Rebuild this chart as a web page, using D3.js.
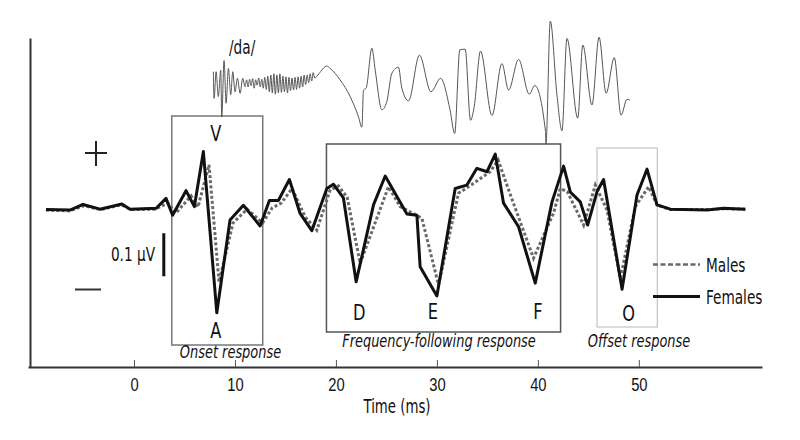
<!DOCTYPE html>
<html>
<head>
<meta charset="utf-8">
<script src="https://cdn.jsdelivr.net/npm/d3@7/dist/d3.min.js"></script>
<style>
  body { margin: 0; background: #fff; }
  svg { display: block; font-family: "Liberation Sans Narrow", "DejaVu Sans Condensed", "Arial Narrow", sans-serif; }
</style>
</head>
<body>
<div id="chart"></div>
<script>
// grand average responses to /da/, [time (ms), amplitude (µV)]
var females = [
  [-8.72, 0.001], [-6.34, 0], [-5.05, 0.013], [-3.37, 0.002], [-1.2, 0.014], [-0.4, 0.002],
  [2.2, 0.004], [3.17, 0.027], [3.82, -0.012], [5.15, 0.045], [5.98, 0.008], [6.87, 0.136],
  [8.2, -0.239], [9.51, -0.023], [10.83, 0.011], [12.49, -0.037], [13.41, 0.022], [14.3, 0.022],
  [15.39, 0.071], [16.45, -0.008], [17.61, -0.048], [19.1, 0.05], [19.75, 0.06], [20.74, 0.028],
  [22.0, -0.167], [23.72, 0.012], [24.88, 0.079], [27.03, -0.009], [28.02, -0.012], [28.34, -0.132],
  [30.0, -0.2], [31.81, 0.05], [32.97, 0.058], [33.96, 0.097], [34.96, 0.089], [35.78, 0.13],
  [36.6, 0.016], [38.09, -0.039], [39.74, -0.17], [41.4, 0.019], [42.55, 0.102], [43.21, 0.042],
  [44.2, 0.019], [44.93, -0.035], [45.86, 0.043], [46.51, 0.071], [48.34, -0.184], [49.82, 0.035],
  [50.81, 0.095], [51.8, 0.012], [53.12, 0.002], [56.76, 0], [58.4, 0.004], [60.56, 0.002]
];

var males = [
  [-8.72, 0], [-6.34, -0.002], [-5.0, 0.01], [-3.3, 0.001], [-1.3, 0.012], [-0.2, 0.001],
  [2.08, 0.002], [3.37, 0.016], [4.16, -0.007], [5.65, 0.033], [6.34, 0.007], [7.43, 0.105],
  [8.42, -0.167], [9.81, -0.03], [11.2, 0.002], [12.74, -0.03], [13.68, 0.005], [14.57, 0.016],
  [15.66, 0.05], [16.95, -0.016], [18.11, -0.047], [19.43, 0.047], [20.25, 0.056], [21.11, 0.03],
  [22.4, -0.124], [25.2, 0.054], [26.36, 0.008], [28.51, -0.019], [30.16, -0.174], [32.14, 0.039],
  [33.63, 0.062], [35.28, 0.089], [36.07, 0.116], [37.1, 0.047], [39.57, -0.112], [41.56, -0.007],
  [42.22, 0.05], [42.91, 0.043], [44.53, -0.035], [45.69, 0.058], [46.85, 0], [48.17, -0.159],
  [49.65, 0.008], [50.97, 0.054], [51.8, 0.012], [53.12, 0.001], [56.76, 0.001], [58.4, 0.003],
  [60.56, 0.002]
];

// /da/ stimulus waveform, [time (ms), relative amplitude]
var stimulus = [
  [7.86, 0.155], [7.93, -0.29], [8.13, 0.155], [8.35, -0.26], [8.59, 0.18], [8.69, -0.6],
  [8.92, 0.34], [9.12, -0.37], [9.35, 0.21], [9.58, -0.23], [9.78, 0.155], [10.01, -0.18],
  [10.24, 0.045], [10.51, -0.205], [10.77, 0.045], [11.0, -0.095],
  [11.15, 0.02], [11.3, -0.1], [11.45, 0.03], [11.6, -0.08], [11.75, 0.04], [11.9, -0.12],
  [12.05, 0.02], [12.2, -0.07], [12.35, 0.05], [12.5, -0.1], [12.65, 0.03], [12.8, -0.12],
  [12.95, 0.06], [13.1, -0.14], [13.25, 0.08], [13.4, -0.18], [13.55, 0.1], [13.7, -0.2],
  [13.85, 0.12], [14.0, -0.22], [14.15, 0.1], [14.3, -0.2], [14.45, 0.12], [14.6, -0.19],
  [14.75, 0.08], [14.9, -0.18], [15.05, 0.07], [15.2, -0.2], [15.35, 0.06], [15.5, -0.16],
  [15.65, 0.05], [15.8, -0.15], [15.95, 0.06], [16.1, -0.14], [16.25, 0.07], [16.4, -0.12],
  [16.55, 0.08], [16.7, -0.1], [16.85, 0.1], [17.0, -0.06], [17.15, 0.1], [17.3, -0.03],
  [17.45, 0.12], [17.6, 0.0], [17.75, 0.14], [17.9, 0.05],
  [18.3, 0.12], [19.1, 0.25], [19.43, 0.21], [20.42, 0.017], [21.41, -0.26], [22.23, -0.595],
  [22.57, -0.77], [22.73, -0.15], [22.99, -0.12], [23.56, 0.545], [23.89, 0.18], [24.55, -0.48],
  [25.04, -0.345], [25.54, 0.13], [26.19, 0.23], [26.53, -0.12], [27.19, -0.33], [28.27, 0.43],
  [29.41, -0.18], [30.37, 0.045], [31.3, -0.48], [31.76, -0.875], [32.27, 0.52], [32.8, 0.53],
  [33.33, -0.655], [33.7, -0.42], [34.32, 0.5], [35.45, -0.575], [36.44, 0.29], [37.1, -0.15],
  [38.09, 0.36], [39.15, -0.22], [39.69, -0.075], [40.76, -0.845], [40.8, -1.05], [41.23, 1.0],
  [41.89, -0.23], [42.39, -0.83], [42.88, 0.71], [43.95, -0.62], [44.45, 0.6], [45.36, -0.4],
  [46.06, 0.73], [46.76, -0.205], [47.57, 0.39], [48.24, -0.57], [48.83, -0.305], [49.1, -0.32]
];

var xTicks = [0, 10, 20, 30, 40, 50];

var peakNames = ["V", "A", "D", "E", "F", "O"];
var peakTimes = [8.1, 8.1, 22.3, 29.6, 40.0, 49.0];

var regionNames = ["Onset response", "Frequency-following response", "Offset response"];
var regionStart = [3.74, 19.06, 45.86];
var regionEnd = [12.75, 42.25, 51.83];

var seriesNames = ["Males", "Females"];

var width = 800, height = 440;

var x = d3.scaleLinear().domain([-10.5, 62.2]).range([28, 762]);
var y = d3.scaleLinear().domain([-0.365, 0.4]).range([367, 38]);
var ys = d3.scaleLinear().domain([-1, 1]).range([141, 21]);

var svg = d3.select("#chart").append("svg")
    .attr("width", width)
    .attr("height", height);

// the original type is a condensed face, so squeeze text horizontally
function squeeze(sel, k) {
    sel.each(function() {
        var t = d3.select(this),
            tx = +t.attr("x") || 0,
            ty = +t.attr("y") || 0;
        t.attr("x", null).attr("y", null)
            .attr("transform", "translate(" + tx + "," + ty + ") scale(" + k + ",1)");
    });
}

// response windows
var boxTop = [116, 144, 148],
    boxBottom = [345, 332, 327],
    boxColor = ["#777", "#555", "#c4c4c4"],
    boxWidth = [1.5, 1.5, 1.2];

svg.append("g").selectAll("rect")
    .data(regionNames)
    .enter().append("rect")
    .attr("x", function(d, i) { return x(regionStart[i]); })
    .attr("y", function(d, i) { return boxTop[i]; })
    .attr("width", function(d, i) { return x(regionEnd[i]) - x(regionStart[i]); })
    .attr("height", function(d, i) { return boxBottom[i] - boxTop[i]; })
    .style("fill", "none")
    .style("stroke", function(d, i) { return boxColor[i]; })
    .style("stroke-width", function(d, i) { return boxWidth[i]; });

var labelX = [230.5, 439, 639],
    labelY = [358, 347, 347];

svg.append("g").selectAll("text")
    .data(regionNames)
    .enter().append("text")
    .attr("x", function(d, i) { return labelX[i]; })
    .attr("y", function(d, i) { return labelY[i]; })
    .attr("text-anchor", "middle")
    .style("font-style", "italic")
    .style("font-size", "18px")
    .style("fill", "#111")
    .text(function(d) { return d; })
    .call(squeeze, 0.8);

// stimulus
var stimLine = d3.line()
    .curve(d3.curveMonotoneX)
    .x(function(d) { return x(d[0]); })
    .y(function(d) { return ys(d[1]); });

svg.append("path")
    .datum(stimulus)
    .attr("d", stimLine)
    .style("fill", "none")
    .style("stroke", "#555")
    .style("stroke-width", 1);

svg.append("text")
    .attr("x", 229)
    .attr("y", 54)
    .style("font-size", "19px")
    .style("fill", "#111")
    .text("/da/")
    .call(squeeze, 0.8);

// axes
var xAxis = d3.axisBottom(x)
    .tickValues(xTicks)
    .tickSize(-7)
    .tickSizeOuter(0)
    .tickPadding(11);

var gx = svg.append("g")
    .attr("transform", "translate(0,367)")
    .call(xAxis);
gx.select(".domain").style("stroke", "#333").style("stroke-width", 2);
gx.selectAll(".tick line").style("stroke", "#555").style("stroke-width", 1);
gx.selectAll(".tick text")
    .style("font-family", "inherit")
    .style("font-size", "18px")
    .style("fill", "#111")
    .attr("transform", "scale(0.82,1)");

var gy = svg.append("g")
    .attr("transform", "translate(30,0)")
    .call(d3.axisLeft(y).tickValues([]).tickSizeOuter(0));
gy.select(".domain").style("stroke", "#333").style("stroke-width", 2);

svg.append("text")
    .attr("x", 397)
    .attr("y", 413)
    .attr("text-anchor", "middle")
    .style("font-size", "19px")
    .style("fill", "#111")
    .text("Time (ms)")
    .call(squeeze, 0.78);

// responses
var line = d3.line()
    .x(function(d) { return x(d[0]); })
    .y(function(d) { return y(d[1]); });

svg.append("path")
    .datum(males)
    .attr("d", line)
    .style("fill", "none")
    .style("stroke", "#6a6a6a")
    .style("stroke-width", 3)
    .style("stroke-dasharray", "3,2.2");

svg.append("path")
    .datum(females)
    .attr("d", line)
    .style("fill", "none")
    .style("stroke", "#111")
    .style("stroke-width", 3)
    .style("stroke-linejoin", "round");

// peak labels
var peakY = [141, 338, 320, 319, 319, 320.5];

svg.append("g").selectAll("text")
    .data(peakNames)
    .enter().append("text")
    .attr("x", function(d, i) { return x(peakTimes[i]); })
    .attr("y", function(d, i) { return peakY[i]; })
    .attr("text-anchor", "middle")
    .style("font-size", "22px")
    .style("fill", "#111")
    .text(function(d) { return d; })
    .call(squeeze, 0.82);

// polarity marks and scale bar
svg.append("path")
    .attr("d", "M85,153H107M96,141V166")
    .style("stroke", "#222")
    .style("stroke-width", 2);

svg.append("path")
    .attr("d", "M75,289.5H101")
    .style("stroke", "#333")
    .style("stroke-width", 2);

svg.append("line")
    .attr("x1", x(2.95)).attr("x2", x(2.95))
    .attr("y1", y(-0.054)).attr("y2", y(-0.154))
    .style("stroke", "#111")
    .style("stroke-width", 3);

svg.append("text")
    .attr("x", 155)
    .attr("y", 261)
    .attr("text-anchor", "end")
    .style("font-size", "19px")
    .style("fill", "#111")
    .text("0.1 µV")
    .call(squeeze, 0.8);

// legend
var legend = svg.append("g").selectAll("g")
    .data(seriesNames)
    .enter().append("g")
    .attr("transform", function(d, i) { return "translate(653," + (264.5 + i * 32) + ")"; });

legend.append("line")
    .attr("x1", 0).attr("x2", 47)
    .style("stroke", function(d, i) { return i === 0 ? "#6a6a6a" : "#111"; })
    .style("stroke-width", function(d, i) { return i === 0 ? 2.5 : 3; })
    .style("stroke-dasharray", function(d, i) { return i === 0 ? "5,2.5" : null; });

legend.append("text")
    .attr("x", 53)
    .attr("y", 7)
    .style("font-size", "19px")
    .style("fill", "#111")
    .text(function(d) { return d; })
    .call(squeeze, 0.8);
</script>
</body>
</html>
